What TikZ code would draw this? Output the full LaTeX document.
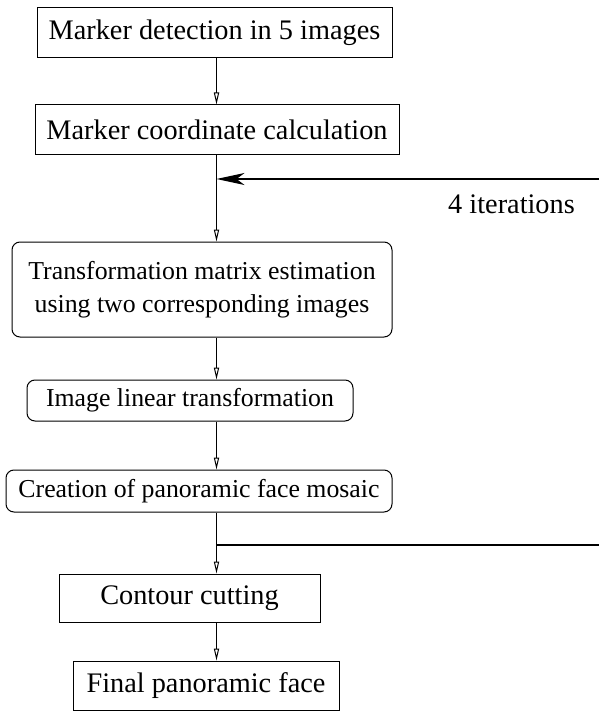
\documentclass[tikz,border=0pt]{standalone}
\usepackage{fontspec}
\setmainfont{Liberation Serif}
\usepackage{tikz}
\usetikzlibrary{arrows.meta, positioning, calc}
\tikzset{
  stepbox/.style={rectangle, draw=black, line width=0.5pt, inner sep=0pt, align=center, font=\fontsize{14.15pt}{17pt}\selectfont},
  roundbox/.style={rectangle, rounded corners=4pt, draw=black, line width=0.5pt, inner sep=0pt, align=center, font=\fontsize{12.9pt}{16.5pt}\selectfont},
  arrow/.style={-{Triangle[open, length=6pt, width=2.6pt]}, line width=0.5pt},
  loopback/.style={-{Stealth[length=14pt, width=6pt, inset=4pt]}, line width=0.6pt},
}
\begin{document}
\begin{tikzpicture}[x=0.5pt, y=-0.5pt]
\useasboundingbox (0,0) rectangle (599,711);
\node[stepbox, minimum width=177.5pt, minimum height=25pt] (detect) at (214.5,33) {Marker detection in 5 images};
\node[stepbox, minimum width=182pt, minimum height=25pt] (coords) at (217,130) {Marker coordinate calculation};
\node[roundbox, minimum width=190pt, minimum height=47.5pt] (estim) at (202,289.5) {Transformation matrix estimation\\ using two corresponding images};
\node[roundbox, minimum width=163pt, minimum height=20.5pt] (lintr) at (190,400.5) {Image linear transformation};
\node[roundbox, minimum width=193pt, minimum height=21pt] (mosaic) at (199,491) {Creation of panoramic face mosaic};
\node[stepbox, minimum width=130.5pt, minimum height=24pt] (contour) at (189.5,598) {Contour cutting};
\node[stepbox, minimum width=133pt, minimum height=24.5pt] (final) at (206,685.5) {Final panoramic face};
\node[font=\fontsize{14.15pt}{17pt}\selectfont] (iter) at (511.5,204) {4 iterations};

% vertical flow line and loop ends
\coordinate (spine) at (216.5,0);
\coordinate (loopin) at (599,179);
\coordinate (loopout) at (599,545);

\draw[arrow] (spine |- detect.south) -- (spine |- coords.north);
\draw[arrow] (spine |- coords.south) -- (spine |- estim.north);
\draw[arrow] (spine |- estim.south) -- (spine |- lintr.north);
\draw[arrow] (spine |- lintr.south) -- (spine |- mosaic.north);
\draw[arrow] (spine |- mosaic.south) -- (spine |- contour.north);
\draw[arrow] (spine |- contour.south) -- (spine |- final.north);

\draw[loopback] (loopin) -- (spine |- loopin);
\draw[line width=0.6pt] (spine |- loopout) -- (loopout);
\end{tikzpicture}
\end{document}
